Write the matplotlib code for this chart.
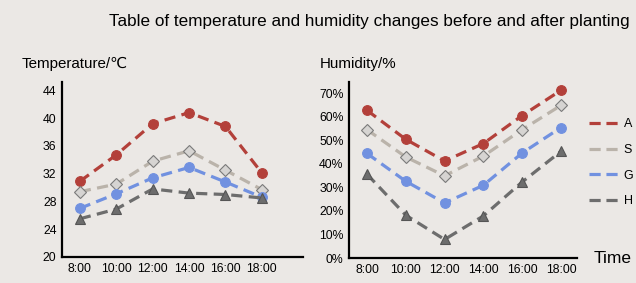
import matplotlib
matplotlib.use("Agg")
import matplotlib.pyplot as plt
from matplotlib.lines import Line2D

plt.rcParams['font.family'] = ['Liberation Sans', 'DejaVu Sans']

times = ['8:00', '10:00', '12:00', '14:00', '16:00', '18:00']
labels = ['A', 'S', 'G', 'H']

# temperature (deg C)
temp_a = [30.9, 34.7, 39.2, 40.8, 38.8, 32.1]
temp_s = [29.4, 30.5, 33.8, 35.3, 32.5, 29.7]
temp_g = [27.0, 29.1, 31.4, 32.9, 30.8, 28.6]
temp_h = [25.5, 26.9, 29.8, 29.2, 29.0, 28.5]

# humidity (%)
hum_a = [62.7, 50.4, 41.2, 48.6, 60.5, 71.2]
hum_s = [54.5, 42.9, 34.9, 43.3, 54.5, 64.8]
hum_g = [44.4, 32.6, 23.4, 30.9, 44.6, 55.4]
hum_h = [35.6, 18.2, 7.9, 17.9, 32.3, 45.3]

bg = '#ebe8e5'
styles = [
    dict(color='#b3403a', marker='o', mfc='#b3403a', mec='#b3403a'),
    dict(color='#bab3aa', marker='D', mfc='#d6d4d2', mec='#7a7a7a'),
    dict(color='#7191e0', marker='o', mfc='#7191e0', mec='#7191e0'),
    dict(color='#6d6d6d', marker='^', mfc='#6d6d6d', mec='#555555'),
]

fig = plt.figure(figsize=(6.36, 2.83), dpi=100, facecolor=bg)

def draw(ax, series, ylim, yticks, yticklabels):
    x = range(len(times))
    for vals, st in zip(series, styles):
        ms = 6 if st['marker'] == 'D' else 7
        ax.plot(x, vals, linestyle=(0, (3.5, 2)), linewidth=2.3, markersize=ms,
                markeredgewidth=0.8, **st)
    ax.set_facecolor(bg)
    ax.set_ylim(*ylim)
    ax.set_yticks(yticks)
    ax.set_yticklabels(yticklabels)
    ax.set_xticks(list(x))
    ax.set_xticklabels(times)
    ax.tick_params(length=0, labelsize=8.8, pad=4)
    for s in ['top', 'right']:
        ax.spines[s].set_visible(False)
    for s in ['left', 'bottom']:
        ax.spines[s].set_linewidth(1.6)

ax1 = fig.add_axes([0.0975, 0.092, 0.379, 0.618])
draw(ax1, [temp_a, temp_s, temp_g, temp_h], (20, 45.2),
     [20, 24, 28, 32, 36, 40, 44], ['20', '24', '28', '32', '36', '40', '44'])
ax1.set_xlim(-0.49, 6.13)

ax2 = fig.add_axes([0.549, 0.088, 0.358, 0.622])
draw(ax2, [hum_a, hum_s, hum_g, hum_h], (0, 74.7),
     [0, 10, 20, 30, 40, 50, 60, 70], ['%d%%' % v for v in range(0, 80, 10)])
ax2.set_xlim(-0.46, 5.41)

fig.text(0.172, 0.925, 'Table of temperature and humidity changes before and after planting',
         fontsize=12.3, va='center', ha='left')
fig.text(0.034, 0.775, 'Temperature/\u2103', fontsize=10.9, va='center')
fig.text(0.502, 0.775, 'Humidity/%', fontsize=10.9, va='center')
fig.text(0.934, 0.085, 'Time', fontsize=12.5, va='center')

handles = [Line2D([], [], color=st['color'], linewidth=2.3, linestyle=(0, (3.5, 1.8)))
           for st in styles]
fig.legend(handles, labels, loc='upper left', bbox_to_anchor=(0.918, 0.6),
           frameon=False, fontsize=9, handlelength=2.3, handletextpad=0.5,
           labelspacing=1.1, borderaxespad=0)

fig.savefig('out.png', dpi=100, facecolor=bg)
